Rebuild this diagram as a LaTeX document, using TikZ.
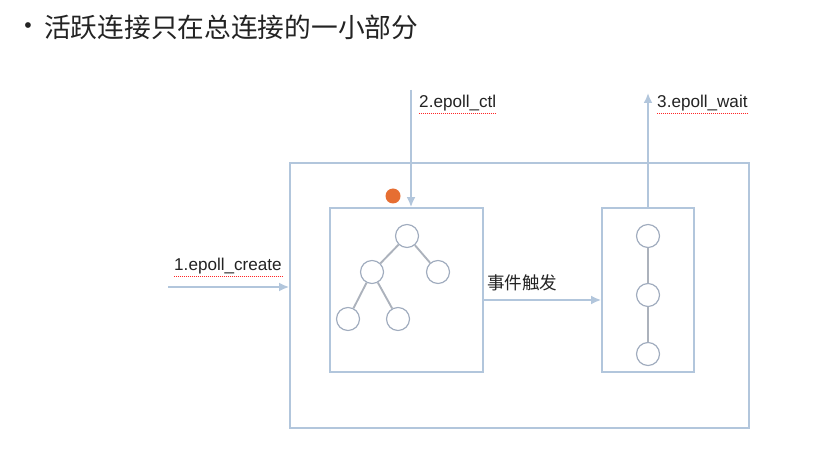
\documentclass[tikz,border=0pt]{standalone}
\usepackage{fontspec}
\setmainfont{Liberation Sans}
\newfontfamily\cjk{Noto Sans CJK SC}
\usetikzlibrary{arrows.meta}
\definecolor{boxc}{RGB}{178,198,220}
\definecolor{edgec}{RGB}{172,178,188}
\definecolor{circc}{RGB}{160,172,190}
\definecolor{txtc}{RGB}{35,35,35}
\definecolor{dotc}{RGB}{230,110,50}
\begin{document}
\begin{tikzpicture}[x=0.03cm,y=-0.03cm,
  frame/.style={draw=boxc,line width=1.4pt,inner sep=0pt},
  ball/.style={circle,draw=circc,line width=1pt,fill=white,minimum size=0.69cm,inner sep=0pt},
  link/.style={draw=edgec,line width=1.6pt},
  flow/.style={draw=boxc,line width=1.6pt,-{Latex[length=8.5pt,width=7.5pt]}},
  lbl/.style={inner sep=0pt,text=txtc,font=\fontsize{14.6}{16}\selectfont},
  squig/.style={draw=red!85!white,densely dotted,line width=0.7pt}]
\useasboundingbox[fill=white] (0,0) rectangle (817,459);
% title
\node[inner sep=0pt,text=txtc,font=\fontsize{18}{20}\selectfont,anchor=center] (bul) at (28,28) {•};
\node[inner sep=0pt,text=txtc,font=\cjk\fontsize{22.8}{26}\selectfont,anchor=west] (title) at (44,27) {活跃连接只在总连接的一小部分};
% boxes
\node[frame,minimum width=13.77cm,minimum height=7.95cm] (outer) at (519.5,295.5) {};
\node[frame,minimum width=4.59cm,minimum height=4.92cm] (lbox) at (406.5,290) {};
\node[frame,minimum width=2.76cm,minimum height=4.92cm] (rbox) at (648,290) {};
% tree
\node[ball] (t1) at (407,236) {};
\node[ball] (t2) at (372,272) {};
\node[ball] (t3) at (438,272) {};
\node[ball] (t4) at (348,319) {};
\node[ball] (t5) at (398,319) {};
\draw[link] (t1) -- (t2);
\draw[link] (t1) -- (t3);
\draw[link] (t2) -- (t4);
\draw[link] (t2) -- (t5);
% list
\node[ball] (l1) at (648,236) {};
\node[ball] (l2) at (648,295) {};
\node[ball] (l3) at (648,354) {};
\draw[link] (l1) -- (l2);
\draw[link] (l2) -- (l3);
% arrows
\coordinate (ctl) at (411,90);
\coordinate (wt) at (648,93);
\coordinate (cr) at (168,287);
\coordinate (ev) at (483,300);
\draw[flow] (ctl) -- (ctl |- lbox.north);
\draw[flow] (rbox.north) -- (wt);
\draw[flow] (cr) -- (cr -| outer.west);
\draw[flow] (ev -| lbox.east) -- (ev -| rbox.west);
% labels
\node[lbl,anchor=west] (lctl) at (419,103) {2.epoll\_ctl};
\node[lbl,anchor=west] (lwt) at (657,103) {3.epoll\_wait};
\node[lbl,anchor=west] (lcr) at (174,266) {1.epoll\_create};
\node[lbl,anchor=west,font=\cjk\fontsize{15}{17}\selectfont] (lev) at (487,283) {事件触发};
\draw[squig] ([yshift=-2pt]lctl.south west) -- ([yshift=-2pt]lctl.south east);
\draw[squig] ([yshift=-2pt]lwt.south west) -- ([yshift=-2pt]lwt.south east);
\draw[squig] ([yshift=-2pt]lcr.south west) -- ([yshift=-2pt]lcr.south east);
% cursor dot
\node[circle,fill=dotc,minimum size=0.45cm,inner sep=0pt] (dot) at (393,196) {};
\end{tikzpicture}
\end{document}
